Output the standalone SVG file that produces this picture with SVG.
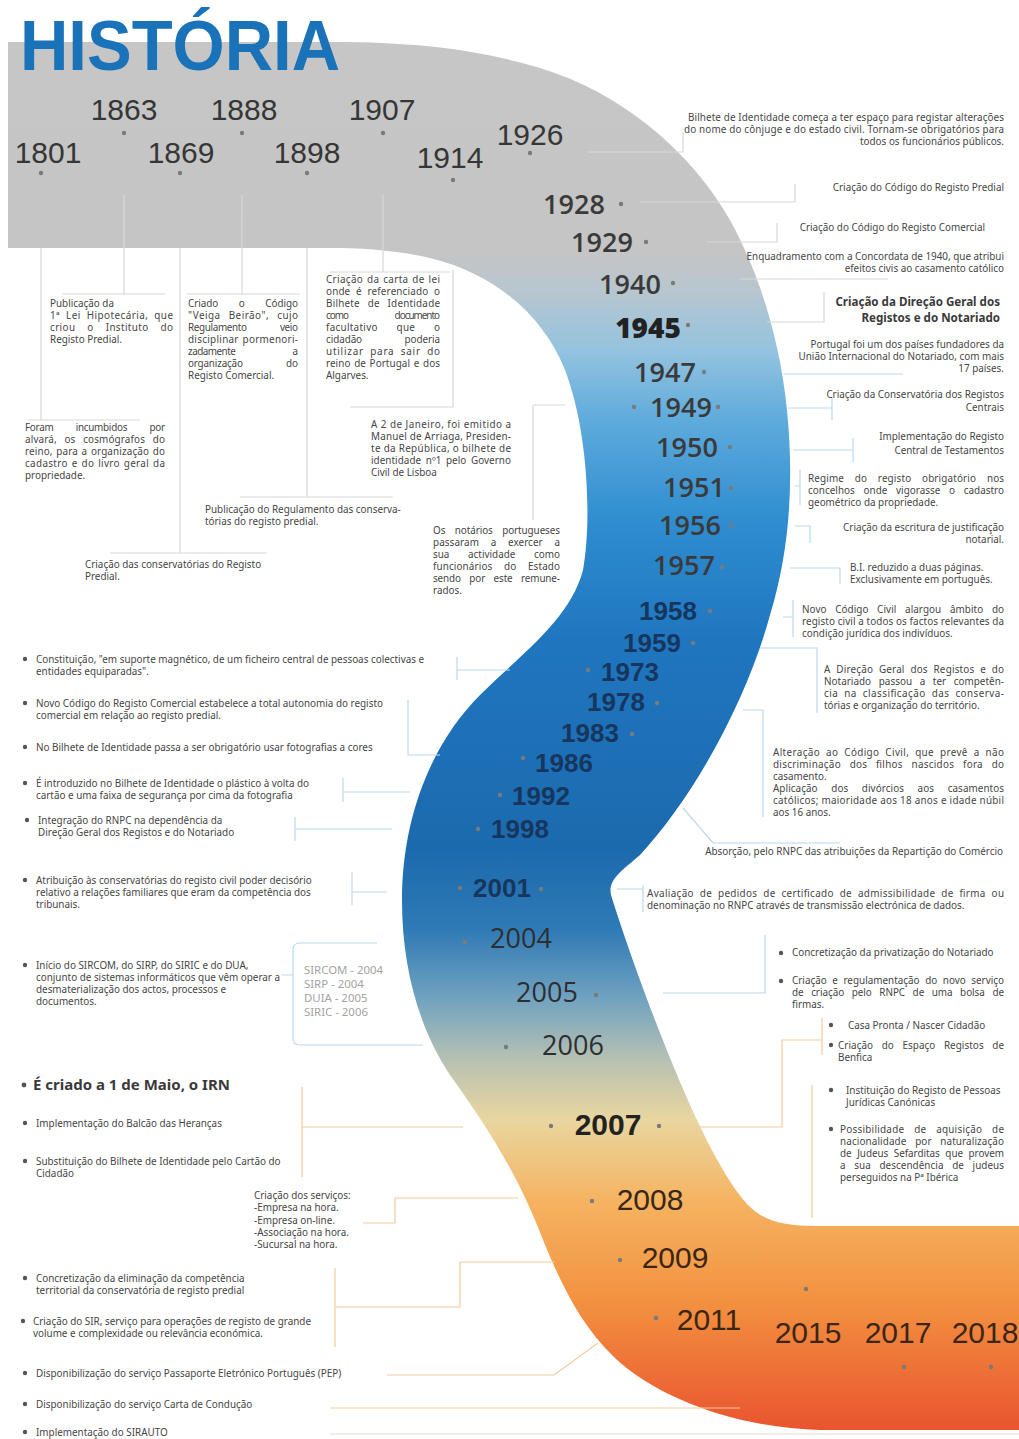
<svg xmlns="http://www.w3.org/2000/svg" width="1019" height="1439" viewBox="0 0 1019 1439">
<defs>
<linearGradient id="bandFill" gradientUnits="userSpaceOnUse" x1="0" y1="0" x2="0" y2="1430">
<stop offset="0" stop-color="#c6c6c6"/>
<stop offset="0.175" stop-color="#c5c5c5"/>
<stop offset="0.203" stop-color="#b8c6cf"/>
<stop offset="0.245" stop-color="#94c3df"/>
<stop offset="0.294" stop-color="#5eabdc"/>
<stop offset="0.364" stop-color="#2f8dd0"/>
<stop offset="0.448" stop-color="#1f76bf"/>
<stop offset="0.594" stop-color="#1c6aae"/>
<stop offset="0.650" stop-color="#2f7ab5"/>
<stop offset="0.699" stop-color="#72a3c0"/>
<stop offset="0.741" stop-color="#b7c1b3"/>
<stop offset="0.783" stop-color="#e9d6a0"/>
<stop offset="0.839" stop-color="#f5b462"/>
<stop offset="0.909" stop-color="#f39240"/>
<stop offset="1" stop-color="#e9542f"/>
</linearGradient>
<style>
.t{font-family:"Noto Sans","DejaVu Sans",sans-serif;font-size:9.9px;fill:#454545}
.r{text-anchor:end}
.tb{font-family:"Noto Sans","DejaVu Sans",sans-serif;font-weight:700;fill:#3a3a3a}
.box{font-family:"Noto Sans","DejaVu Sans",sans-serif;font-size:11.4px;fill:#a3a3a3}
.yt{font-family:"Liberation Sans",Arial,sans-serif;font-size:30px;fill:#363636;text-anchor:middle}
.ym{font-family:"Open Sans","Noto Sans",sans-serif;font-size:27px;font-weight:600;fill:#3a3a3a;text-anchor:middle}
.yn{font-family:"Liberation Sans",Arial,sans-serif;font-size:26px;font-weight:700;fill:#17365e;text-anchor:middle}
.yg{font-family:"Open Sans","Noto Sans",sans-serif;font-size:27px;font-weight:500;fill:#2e2e2e;text-anchor:middle}
.yo{font-family:"Liberation Sans",Arial,sans-serif;font-size:30px;fill:#3b2616;text-anchor:middle}
.dot{fill:#7a7a7a}
.bul{fill:#555}
.cg{fill:none;stroke:#d8d8d8;stroke-width:1.2}
.cb{fill:none;stroke:#bdd8ec;stroke-width:1.2}
.co{fill:none;stroke:#f4c9a0;stroke-width:1.2}
</style>
</defs>
<rect width="1019" height="1439" fill="#ffffff"/>

<!-- timeline ribbon -->
<g id="band">
<path fill="url(#bandFill)" d="M8,42 H330 C420,42 480,50 540,68 C620,92 690,150 730,220 C760,275 780,340 787,410 C794,480 790,550 770,615 C750,690 700,790 640,855 C620,872 608,880 611,895 C625,940 650,1010 675,1070 C700,1130 725,1180 748,1205 C765,1222 785,1226 815,1226 H1019 V1430 H820 C740,1428 660,1400 615,1358 C575,1320 555,1270 535,1220 C510,1160 475,1110 450,1075 C420,1030 402,970 402,900 C402,820 430,745 480,695 C520,655 570,620 583,570 C592,520 588,430 565,370 C545,320 500,275 430,258 C395,250 360,248 330,248 H8 Z"/>
</g>

<text id="title" x="20" y="70" textLength="320" lengthAdjust="spacingAndGlyphs" style="font-family:'Liberation Sans',Arial,sans-serif;font-weight:700;font-size:70px;fill:#1a72b9">HISTÓRIA</text>

<!-- leader lines -->
<g id="connectors">
<path class="cg" d="M41,248 V420 M28,420 H140"/>
<path class="cg" d="M124,195 V294 M62,294 H165"/>
<path class="cg" d="M180,248 V553 M110,553 H267"/>
<path class="cg" d="M242,195 V294 M187,294 H300"/>
<path class="cg" d="M307,248 V497 M240,497 H393"/>
<path class="cg" d="M383,195 V272 M330,272 H450"/>
<path class="cg" d="M453,270 V407 M350,407 H453"/>
<path class="cg" d="M533,405 V520 M533,405 H565"/>
<path class="cg" d="M588,152 H683 V132"/>
<path class="cg" d="M640,202 H795 V184"/>
<path class="cg" d="M707,242 H777 V223"/>
<path class="cg" d="M740,279 H888"/>
<path class="cg" d="M767,322 H824 V292"/>
<path class="cb" d="M783,374 H903"/>
<path class="cb" d="M788,408 H832 M832,398 V420"/>
<path class="cb" d="M793,450 H853 M853,438 V462"/>
<path class="cb" d="M795,486 H800 M800,470 V505"/>
<path class="cb" d="M795,526 H810 V543"/>
<path class="cb" d="M790,568 H840 V584"/>
<path class="cb" d="M783,617 H793 M793,600 V637"/>
<path class="cb" d="M760,648 H817 V713"/>
<path class="cb" d="M743,710 H763 V817"/>
<path class="cb" d="M683,808 L713,843 H840"/>
<path class="cb" d="M617,889 H643 M643,885 V912"/>
<path class="cb" d="M663,993 H765 V935"/>
<path class="cb" d="M457,657 V680 M457,670 H510"/>
<path class="cb" d="M408,700 V755 H440"/>
<path class="cb" d="M343,778 V802 M343,792 H410"/>
<path class="cb" d="M295,817 V841 M295,829 H392"/>
<path class="cb" d="M352,872 V905 M352,892 H387"/>
<path class="cb" d="M282,975 H293 M377,943 H300 Q293,943 293,950 V1038 Q293,1045 300,1045 H423"/>
<path class="co" d="M672,1127 H782 V1040 H822 M822,1018 V1055"/>
<path class="co" d="M812,1085 V1218"/>
<path class="co" d="M302,1087 V1177 M302,1127 H463"/>
<path class="co" d="M363,1223 H395 V1198 H518"/>
<path class="co" d="M335,1268 V1347 M335,1307 H460 V1262 H555"/>
<path class="co" d="M387,1375 H554 L598,1343"/>
<path class="co" d="M330,1408 H740"/>
<path class="co" d="M330,1434 H1019" style="stroke:#eadbd0"/>
</g>

<g id="y1801">
<text class="yt" x="48" y="163">1801</text>
<circle class="dot" cx="41" cy="173" r="2.2"/>
<text class="t" x="25" y="431" textLength="140" word-spacing="20">Foram incumbidos por</text>
<text class="t" x="25" y="443" textLength="140" word-spacing="5">alvará, os cosmógrafos do</text>
<text class="t" x="25" y="455" textLength="140" word-spacing="1">reino, para a organização do</text>
<text class="t" x="25" y="467" textLength="140" word-spacing="1">cadastro e do livro geral da</text>
<text class="t" x="25" y="479">propriedade.</text>
</g>

<g id="y1863">
<text class="yt" x="124" y="120">1863</text>
<circle class="dot" cx="124" cy="133" r="2.2"/>
<text class="t" x="50" y="307">Publicação da</text>
<text class="t" x="50" y="319" textLength="123" word-spacing="3">1ª Lei Hipotecária, que</text>
<text class="t" x="50" y="331" textLength="123" word-spacing="9">criou o Instituto do</text>
<text class="t" x="50" y="343">Registo Predial.</text>
</g>

<g id="y1869">
<text class="yt" x="181" y="163">1869</text>
<circle class="dot" cx="180" cy="173" r="2.2"/>
<text class="t" x="85" y="568">Criação das conservatórias do Registo</text>
<text class="t" x="85" y="580">Predial.</text>
</g>

<g id="y1888">
<text class="yt" x="244" y="120">1888</text>
<circle class="dot" cx="242" cy="133" r="2.2"/>
<text class="t" x="188" y="307" textLength="110" word-spacing="18">Criado o Código</text>
<text class="t" x="188" y="319" textLength="110" word-spacing="5">&quot;Veiga Beirão&quot;, cujo</text>
<text class="t" x="188" y="331" textLength="110" word-spacing="31">Regulamento veio</text>
<text class="t" x="188" y="343" textLength="110" word-spacing="1">disciplinar pormenori-</text>
<text class="t" x="188" y="355" textLength="110" word-spacing="55">zadamente a</text>
<text class="t" x="188" y="367" textLength="110" word-spacing="41">organização do</text>
<text class="t" x="188" y="379">Registo Comercial.</text>
</g>

<g id="y1898">
<text class="yt" x="307" y="163">1898</text>
<circle class="dot" cx="307" cy="173" r="2.2"/>
<text class="t" x="205" y="513">Publicação do Regulamento das conserva-</text>
<text class="t" x="205" y="525">tórias do registo predial.</text>
</g>

<g id="y1907">
<text class="yt" x="382" y="120">1907</text>
<circle class="dot" cx="383" cy="133" r="2.2"/>
<text class="t" x="326" y="283" textLength="114" word-spacing="1">Criação da carta de lei</text>
<text class="t" x="326" y="295" textLength="114" word-spacing="3">onde é referenciado o</text>
<text class="t" x="326" y="307" textLength="114" word-spacing="5">Bilhete de Identidade</text>
<text class="t" x="326" y="319" textLength="114" word-spacing="45">como documento</text>
<text class="t" x="326" y="331" textLength="114" word-spacing="16">facultativo que o</text>
<text class="t" x="326" y="343" textLength="114" word-spacing="40">cidadão poderia</text>
<text class="t" x="326" y="355" textLength="114" word-spacing="3">utilizar para sair do</text>
<text class="t" x="326" y="367" textLength="114" word-spacing="1">reino de Portugal e dos</text>
<text class="t" x="326" y="379">Algarves.</text>
</g>

<g id="y1914">
<text class="yt" x="450" y="168">1914</text>
<circle class="dot" cx="453" cy="180" r="2.2"/>
<text class="t" x="371" y="428" textLength="140">A 2 de Janeiro, foi emitido a</text>
<text class="t" x="371" y="440" textLength="140">Manuel de Arriaga, Presiden-</text>
<text class="t" x="371" y="452" textLength="140">te da República, o bilhete de</text>
<text class="t" x="371" y="464" textLength="140" word-spacing="2">identidade nº1 pelo Governo</text>
<text class="t" x="371" y="476">Civil de Lisboa</text>
</g>

<g id="y1926">
<text class="yt" x="530" y="145">1926</text>
<circle class="dot" cx="530" cy="153" r="2.2"/>
<text class="t" x="688" y="121" textLength="316">Bilhete de Identidade começa a ter espaço para registar alterações</text>
<text class="t" x="684" y="133" textLength="320">do nome do cônjuge e do  estado civil. Tornam-se obrigatórios para</text>
<text class="t r" x="1004" y="145">todos os funcionários públicos.</text>
</g>

<g id="y1928">
<text class="ym" x="574" y="214">1928</text>
<circle class="dot" cx="621" cy="204" r="2.2"/>
<text class="t r" x="1004" y="191">Criação do Código do Registo Predial</text>
</g>

<g id="y1929">
<text class="ym" x="602" y="252">1929</text>
<circle class="dot" cx="646" cy="242" r="2.2"/>
<text class="t r" x="985" y="231">Criação do Código do Registo Comercial</text>
</g>

<g id="y1940">
<text class="ym" x="630" y="294">1940</text>
<circle class="dot" cx="673" cy="283" r="2.2"/>
<text class="t r" x="1004" y="260">Enquadramento com a Concordata de 1940, que atribui</text>
<text class="t r" x="1004" y="272">efeitos civis ao casamento católico</text>
</g>

<g id="y1945">
<text x="648" y="338" style="font-family:'Open Sans','Noto Sans',sans-serif;font-size:28px;font-weight:800;fill:#222;text-anchor:middle">1945</text>
<circle class="dot" cx="688" cy="325" r="2.2"/>
<text class="tb r" x="1000" y="306" font-size="11.6">Criação da Direção Geral dos</text>
<text class="tb r" x="1000" y="322" font-size="11.6">Registos e do Notariado</text>
</g>

<g id="y1947">
<text class="ym" x="665" y="382">1947</text>
<circle class="dot" cx="704" cy="372" r="2.2"/>
<text class="t r" x="1004" y="348">Portugal foi um dos países fundadores da</text>
<text class="t r" x="1004" y="360">União Internacional do Notariado, com mais</text>
<text class="t r" x="1004" y="372">17 países.</text>
</g>

<g id="y1949">
<text class="ym" x="681" y="417">1949</text>
<circle class="dot" cx="634" cy="407" r="2.2"/>
<circle class="dot" cx="718" cy="407" r="2.2"/>
<text class="t r" x="1004" y="398">Criação da Conservatória dos Registos</text>
<text class="t r" x="1004" y="411">Centrais</text>
<text class="t" x="433" y="534" textLength="127" word-spacing="7">Os notários portugueses</text>
<text class="t" x="433" y="546" textLength="127" word-spacing="9">passaram a exercer a</text>
<text class="t" x="433" y="558" textLength="127" word-spacing="16">sua actividade como</text>
<text class="t" x="433" y="570" textLength="127" word-spacing="9">funcionários do Estado</text>
<text class="t" x="433" y="582" textLength="127" word-spacing="6">sendo por este remune-</text>
<text class="t" x="433" y="594">rados.</text>
</g>

<g id="y1950">
<text class="ym" x="687" y="457">1950</text>
<circle class="dot" cx="730" cy="447" r="2.2"/>
<text class="t r" x="1004" y="440">Implementação do Registo</text>
<text class="t r" x="1004" y="454">Central de Testamentos</text>
</g>

<g id="y1951">
<text class="ym" x="694" y="497">1951</text>
<circle class="dot" cx="731" cy="488" r="2.2"/>
<text class="t" x="808" y="482" textLength="196" word-spacing="8">Regime do registo obrigatório nos</text>
<text class="t" x="808" y="494" textLength="196" word-spacing="6">concelhos onde vigorasse o cadastro</text>
<text class="t" x="808" y="506">geométrico da propriedade.</text>
</g>

<g id="y1956">
<text class="ym" x="690" y="535">1956</text>
<circle class="dot" cx="731" cy="525" r="2.2"/>
<text class="t r" x="1004" y="531">Criação da escritura de justificação</text>
<text class="t r" x="1004" y="543">notarial.</text>
</g>

<g id="y1957">
<text class="ym" x="684" y="575">1957</text>
<circle class="dot" cx="722" cy="567" r="2.2"/>
<text class="t" x="850" y="571">B.I. reduzido a duas páginas.</text>
<text class="t" x="850" y="583">Exclusivamente em português.</text>
</g>

<g id="y1958">
<text class="yn" x="668" y="620">1958</text>
<circle class="dot" cx="710" cy="611" r="2.2"/>
<text class="t" x="802" y="613" textLength="202" word-spacing="6">Novo Código Civil alargou âmbito do</text>
<text class="t" x="802" y="625" textLength="202">registo civil a todos os factos relevantes da</text>
<text class="t" x="802" y="637">condição jurídica dos indivíduos.</text>
</g>

<g id="y1959">
<text class="yn" x="652" y="652">1959</text>
<circle class="dot" cx="693" cy="643" r="2.2"/>
<text class="t" x="824" y="673" textLength="180" word-spacing="3">A Direção Geral dos Registos e do</text>
<text class="t" x="824" y="685" textLength="180" word-spacing="5">Notariado passou a ter competên-</text>
<text class="t" x="824" y="697" textLength="180" word-spacing="3">cia na classificação das conserva-</text>
<text class="t" x="824" y="709">tórias e organização do território.</text>
</g>

<g id="y1973">
<text class="yn" x="630" y="681">1973</text>
<circle class="dot" cx="588" cy="670" r="2.2"/>
<circle class="bul" cx="25" cy="659" r="2.2"/>
<text class="t" x="36" y="663">Constituição, &quot;em suporte magnético, de um ficheiro central de pessoas colectivas e</text>
<text class="t" x="36" y="675">entidades equiparadas&quot;.</text>
</g>

<g id="y1978">
<text class="yn" x="616" y="711">1978</text>
<circle class="dot" cx="657" cy="703" r="2.2"/>
<text class="t" x="773" y="756" textLength="231" word-spacing="3">Alteração ao Código Civil, que prevê a não</text>
<text class="t" x="773" y="768" textLength="231" word-spacing="6">discriminação dos filhos nascidos fora do</text>
<text class="t" x="773" y="780">casamento.</text>
<text class="t" x="773" y="792" textLength="231" word-spacing="11">Aplicação dos divórcios aos casamentos</text>
<text class="t" x="773" y="804" textLength="231">católicos; maioridade aos 18 anos e idade núbil</text>
<text class="t" x="773" y="816">aos 16 anos.</text>
</g>

<g id="y1983">
<text class="yn" x="590" y="742">1983</text>
<circle class="dot" cx="632" cy="734" r="2.2"/>
<circle class="bul" cx="25" cy="747" r="2.2"/>
<text class="t" x="36" y="751">No Bilhete de Identidade passa a ser obrigatório usar fotografias a cores</text>
</g>

<g id="y1986">
<text class="yn" x="564" y="772">1986</text>
<circle class="dot" cx="523" cy="758" r="2.2"/>
<circle class="bul" cx="25" cy="703" r="2.2"/>
<text class="t" x="36" y="707">Novo Código do Registo Comercial estabelece a total autonomia do registo</text>
<text class="t" x="36" y="719">comercial em relação ao registo predial.</text>
</g>

<g id="y1992">
<text class="yn" x="541" y="805">1992</text>
<circle class="dot" cx="500" cy="795" r="2.2"/>
<circle class="bul" cx="25" cy="783" r="2.2"/>
<text class="t" x="36" y="787">É introduzido no Bilhete de Identidade o plástico à volta do</text>
<text class="t" x="36" y="799">cartão e uma faixa de segurança por cima da fotografia</text>
<text class="t r" x="1003" y="855">Absorção, pelo RNPC das atribuições da Repartição do Comércio</text>
</g>

<g id="y1998">
<text class="yn" x="520" y="838">1998</text>
<circle class="dot" cx="478" cy="829" r="2.2"/>
<circle class="bul" cx="27" cy="820" r="2.2"/>
<text class="t" x="38" y="824">Integração do RNPC na dependência da</text>
<text class="t" x="38" y="836">Direção Geral dos Registos e do Notariado</text>
</g>

<g id="y2001">
<text class="yn" x="502" y="897">2001</text>
<circle class="dot" cx="460" cy="888" r="2.2"/>
<circle class="dot" cx="541" cy="889" r="2.2"/>
<circle class="bul" cx="25" cy="880" r="2.2"/>
<text class="t" x="36" y="884">Atribuição às conservatórias do registo civil poder decisório</text>
<text class="t" x="36" y="896">relativo a relações familiares que eram da competência dos</text>
<text class="t" x="36" y="908">tribunais.</text>
<text class="t" x="647" y="897" textLength="357" word-spacing="3">Avaliação de pedidos de certificado de admissibilidade de firma ou</text>
<text class="t" x="647" y="909">denominação no RNPC através de transmissão electrónica de dados.</text>
</g>

<g id="y2004">
<text class="yg" x="521" y="948">2004</text>
<circle class="dot" cx="465" cy="942" r="2.2"/>
<circle class="bul" cx="25" cy="965" r="2.2"/>
<text class="t" x="36" y="969">Início do SIRCOM, do SIRP, do SIRIC e do DUA,</text>
<text class="t" x="36" y="981">conjunto de sistemas informáticos que vêm operar a</text>
<text class="t" x="36" y="993">desmaterialização dos actos, processos e</text>
<text class="t" x="36" y="1005">documentos.</text>
<text class="box" x="304" y="974">SIRCOM - 2004</text>
<text class="box" x="304" y="988">SIRP - 2004</text>
<text class="box" x="304" y="1002">DUIA - 2005</text>
<text class="box" x="304" y="1016">SIRIC - 2006</text>
</g>

<g id="y2005">
<text class="yg" x="547" y="1002">2005</text>
<circle class="dot" cx="596" cy="995" r="2.2"/>
<circle class="bul" cx="781" cy="953" r="2.2"/>
<text class="t" x="792" y="956">Concretização da privatização do Notariado</text>
<circle class="bul" cx="781" cy="981" r="2.2"/>
<text class="t" x="792" y="984" textLength="212" word-spacing="3">Criação e regulamentação do novo serviço</text>
<text class="t" x="792" y="996" textLength="212" word-spacing="5">de criação pelo RNPC de uma bolsa de</text>
<text class="t" x="792" y="1008">firmas.</text>
</g>

<g id="y2006">
<text class="yg" x="573" y="1055">2006</text>
<circle class="dot" cx="506" cy="1047" r="2.2"/>
<circle class="bul" cx="831" cy="1025" r="2.2"/>
<text class="t" x="848" y="1029">Casa Pronta / Nascer Cidadão</text>
<circle class="bul" cx="831" cy="1045" r="2.2"/>
<text class="t" x="838" y="1049" textLength="166" word-spacing="6">Criação do Espaço Registos de</text>
<text class="t" x="838" y="1061">Benfica</text>
</g>

<g id="y2007">
<text x="608" y="1135" style="font-family:'Liberation Sans',Arial,sans-serif;font-size:30px;font-weight:700;fill:#222;text-anchor:middle">2007</text>
<circle class="dot" cx="551" cy="1126" r="2.2"/>
<circle class="dot" cx="659" cy="1126" r="2.2"/>
<circle class="bul" cx="24" cy="1085" r="2.4"/>
<text class="tb" x="33" y="1090" font-size="15">É criado a 1 de Maio, o IRN</text>
<circle class="bul" cx="25" cy="1123" r="2.2"/>
<text class="t" x="36" y="1127">Implementação do Balcão das Heranças</text>
<circle class="bul" cx="25" cy="1161" r="2.2"/>
<text class="t" x="36" y="1165">Substituição do Bilhete de Identidade pelo Cartão do</text>
<text class="t" x="36" y="1177">Cidadão</text>
<circle class="bul" cx="831" cy="1090" r="2.2"/>
<text class="t" x="846" y="1094">Instituição do Registo de Pessoas</text>
<text class="t" x="846" y="1106">Jurídicas Canónicas</text>
<circle class="bul" cx="831" cy="1129" r="2.2"/>
<text class="t" x="840" y="1133" textLength="164" word-spacing="7">Possibilidade de aquisição de</text>
<text class="t" x="840" y="1145" textLength="164" word-spacing="6">nacionalidade por naturalização</text>
<text class="t" x="840" y="1157" textLength="164" word-spacing="3">de Judeus Sefarditas que provem</text>
<text class="t" x="840" y="1169" textLength="164" word-spacing="6">a sua descendência de judeus</text>
<text class="t" x="840" y="1181">perseguidos na Pª Ibérica</text>
</g>

<g id="y2008">
<text class="yo" x="650" y="1210">2008</text>
<circle class="dot" cx="592" cy="1201" r="2.2"/>
<text class="t" x="254" y="1199">Criação dos serviços:</text>
<text class="t" x="254" y="1211">-Empresa na hora.</text>
<text class="t" x="254" y="1224">-Empresa on-line.</text>
<text class="t" x="254" y="1236">-Associação na hora.</text>
<text class="t" x="254" y="1248">-Sucursal na hora.</text>
</g>

<g id="y2009">
<text class="yo" x="675" y="1268">2009</text>
<circle class="dot" cx="620" cy="1260" r="2.2"/>
<circle class="bul" cx="25" cy="1278" r="2.2"/>
<text class="t" x="36" y="1282">Concretização da eliminação da competência</text>
<text class="t" x="36" y="1294">territorial da conservatória de registo predial</text>
<circle class="bul" cx="23" cy="1321" r="2.2"/>
<text class="t" x="33" y="1325">Criação do SIR, serviço para operações de registo de grande</text>
<text class="t" x="33" y="1337">volume e complexidade ou relevância económica.</text>
</g>

<g id="y2011">
<text class="yo" x="709" y="1330">2011</text>
<circle class="dot" cx="656" cy="1318" r="2.2"/>
<circle class="bul" cx="25" cy="1373" r="2.2"/>
<text class="t" x="36" y="1377">Disponibilização do serviço Passaporte Eletrónico Português (PEP)</text>
</g>

<g id="y2015">
<text class="yo" x="808" y="1343">2015</text>
<circle class="dot" cx="806" cy="1289" r="2.2"/>
<circle class="bul" cx="25" cy="1404" r="2.2"/>
<text class="t" x="36" y="1408">Disponibilização do serviço Carta de Condução</text>
</g>

<g id="y2017">
<text class="yo" x="898" y="1343">2017</text>
<circle class="dot" cx="904" cy="1367" r="2.2"/>
<circle class="bul" cx="25" cy="1432" r="2.2"/>
<text class="t" x="36" y="1436">Implementação do SIRAUTO</text>
</g>

<g id="y2018">
<text class="yo" x="985" y="1343">2018</text>
<circle class="dot" cx="991" cy="1367" r="2.2"/>
</g>
</svg>
